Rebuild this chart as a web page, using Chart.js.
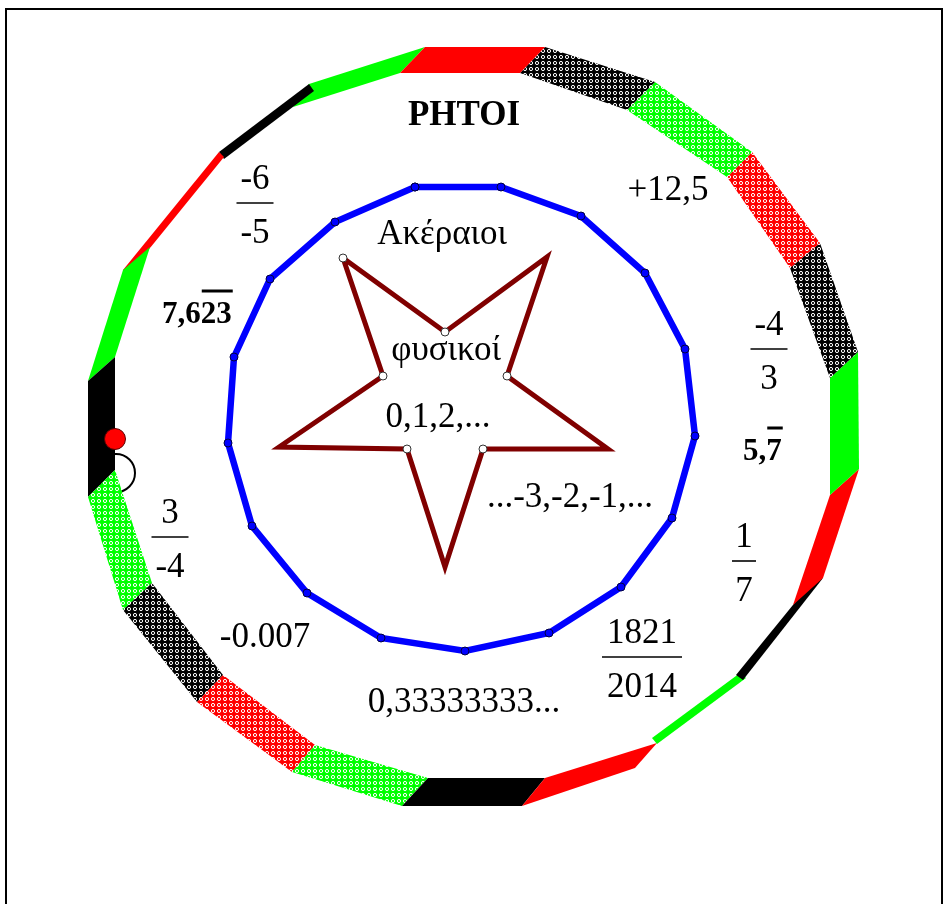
<!DOCTYPE html>
<html>
<head>
<meta charset="utf-8">
<script src="https://cdn.jsdelivr.net/npm/chart.js@4.4.1/dist/chart.umd.min.js"></script>
<style>
  html, body { margin: 0; padding: 0; background: #fff; }
  #wrap { width: 944px; height: 904px; }
</style>
</head>
<body>
<div id="wrap"><canvas id="c" width="944" height="904"></canvas></div>
<script>
// --- data: vertices in picture units (x right, y down) ---
const polyX = [415, 501, 581, 645, 685, 695, 672, 621, 549, 465, 381, 307, 252, 228, 234, 270, 335];
const polyY = [187, 187, 216, 273, 349, 436, 518, 587, 633, 651, 638, 593, 526, 443, 357, 279, 222];

// star: outer / inner alternating, starting at top-left tip
const starX = [343, 445, 547, 507, 608, 483, 445, 407, 279, 383];
const starY = [258, 332, 257, 376, 449, 449, 567, 449, 447, 376];
const starDot = [1, 1, 0, 1, 0, 1, 0, 1, 0, 1];

// outer band, clockwise from the top red piece
const ringFill = ['red', 'blackH', 'greenH', 'redH', 'blackH', 'green', 'red', 'black', 'green', 'red',
                  'black', 'greenH', 'redH', 'blackH', 'greenH', 'black', 'green', 'red', 'black', 'green'];
const ringPts = [
  [[425, 47], [545, 47], [520, 73], [400, 73]],
  [[545, 47], [655, 82], [627, 110], [520, 73]],
  [[655, 82], [752, 152], [727, 177], [627, 110]],
  [[752, 152], [820, 243], [790, 268], [727, 177]],
  [[820, 243], [858, 352], [830, 378], [790, 268]],
  [[858, 352], [859, 469], [830, 495], [830, 378]],
  [[859, 469], [823, 578], [793, 605], [830, 495]],
  [[823, 578], [743, 680], [736, 675], [810, 584]],
  [[746, 678], [657, 744], [652, 738], [740, 673]],
  [[657, 743], [545, 778], [522, 806], [635, 768]],
  [[545, 778], [428, 778], [402, 806], [522, 806]],
  [[428, 778], [315, 745], [292, 772], [402, 806]],
  [[315, 745], [223, 675], [197, 702], [292, 772]],
  [[223, 675], [152, 583], [123, 610], [197, 702]],
  [[152, 583], [115, 470], [88, 497], [123, 610]],
  [[115, 470], [115, 357], [88, 381], [88, 497]],
  [[115, 357], [150, 247], [123, 270], [88, 381]],
  [[123, 270], [219, 152], [224, 157], [128, 275]],
  [[219, 152], [309, 84], [314, 91], [224, 159]],
  [[293, 107], [400, 73], [425, 47], [309, 84]]
];

const redDot = { x: 115, y: 439 };
const loopRing = { x: 116, y: 473 };
const frameX = [6, 6, 942, 942];
const frameY = [912, 9, 9, 912];

// texts
const labelText = ['ΡΗΤΟΙ', 'Ακέραιοι', 'φυσικοί', '0,1,2,...', '...-3,-2,-1,...', '+12,5', '-0.007', '0,33333333...'];
const labelX = [464, 442, 446, 438, 570, 668, 265, 464];
const labelY = [125, 244, 360, 427, 507, 200, 647, 712];
const labelBold = [true, false, false, false, false, false, false, false];

const fracNum = ['-6', '-4', '1', '3', '1821'];
const fracDen = ['-5', '3', '7', '-4', '2014'];
const fracX = [255, 769, 744, 170, 642];
const fracBarY = [203, 349, 561, 537, 657];
const fracBarW = [37, 37, 24, 37, 80];

const repHead = ['7,6', '5,'];
const repTail = ['23', '7'];
const repX = [162, 743];
const repY = [323, 460];

// --- helpers ---
function makePattern(color) {
  const c = document.createElement('canvas');
  c.width = 6; c.height = 6;
  const g = c.getContext('2d');
  g.fillStyle = color;
  g.fillRect(0, 0, 6, 6);
  g.strokeStyle = '#ffffff';
  g.lineWidth = 1;
  g.beginPath();
  g.arc(3, 3, 1.6, 0, Math.PI * 2);
  g.stroke();
  return g.createPattern(c, 'repeat');
}

const fills = {
  red: '#ff0000', green: '#00ff00', black: '#000000',
  redH: makePattern('#ff0000'), greenH: makePattern('#00ff00'), blackH: makePattern('#000000')
};

const toPts = (xs, ys) => xs.map((x, i) => ({ x: x, y: ys[i] }));
const closed = pts => pts.concat([pts[0]]);

const SERIF = '"Liberation Serif", "Times New Roman", serif';

const textPlugin = {
  id: 'texts',
  afterDatasetsDraw(chart) {
    const ctx = chart.ctx;
    const sx = chart.scales.x, sy = chart.scales.y;
    ctx.save();
    ctx.fillStyle = '#000';
    ctx.strokeStyle = '#000';
    ctx.textBaseline = 'alphabetic';

    labelText.forEach((t, i) => {
      ctx.font = (labelBold[i] ? 'bold 35px ' : '35px ') + SERIF;
      ctx.textAlign = 'center';
      ctx.fillText(t, sx.getPixelForValue(labelX[i]), sy.getPixelForValue(labelY[i]));
    });

    ctx.font = '35px ' + SERIF;
    ctx.textAlign = 'center';
    ctx.lineWidth = 1.6;
    fracNum.forEach((n, i) => {
      const cx = sx.getPixelForValue(fracX[i]);
      const by = sy.getPixelForValue(fracBarY[i]);
      ctx.fillText(n, cx, by - 14);
      ctx.fillText(fracDen[i], cx, by + 40);
      ctx.beginPath();
      ctx.moveTo(cx - fracBarW[i] / 2, by);
      ctx.lineTo(cx + fracBarW[i] / 2, by);
      ctx.stroke();
    });

    ctx.font = 'bold 31px ' + SERIF;
    ctx.textAlign = 'left';
    repHead.forEach((h, i) => {
      const x0 = sx.getPixelForValue(repX[i]);
      const y0 = sy.getPixelForValue(repY[i]);
      const w1 = ctx.measureText(h).width;
      const w2 = ctx.measureText(repTail[i]).width;
      ctx.fillText(h, x0, y0);
      ctx.fillText(repTail[i], x0 + w1, y0);
      ctx.lineWidth = 3;
      ctx.beginPath();
      ctx.moveTo(x0 + w1 + 1, y0 - 32);
      ctx.lineTo(x0 + w1 + w2 + 1, y0 - 32);
      ctx.stroke();
    });
    ctx.restore();
  }
};

const datasets = [];

datasets.push({
  data: [redDot], showLine: false, pointRadius: 10.5,
  pointBackgroundColor: '#ff0000', pointBorderColor: '#5a0000', pointBorderWidth: 1
});

datasets.push({
  data: closed(toPts(polyX, polyY)), borderColor: '#0000ff', borderWidth: 6.5, fill: false,
  pointRadius: 4, pointBackgroundColor: '#0000ff', pointBorderColor: '#000040', pointBorderWidth: 1,
  borderJoinStyle: 'miter'
});

const starPts = closed(toPts(starX, starY));
const starR = starDot.concat([0]).map(d => d ? 4 : 0);
datasets.push({
  data: starPts, borderColor: '#800000', borderWidth: 5, fill: false,
  pointRadius: starR, pointBackgroundColor: '#ffffff', pointBorderColor: '#333333', pointBorderWidth: 1,
  borderJoinStyle: 'miter'
});

ringPts.forEach((q, i) => {
  datasets.push({
    data: closed(q.map(p => ({ x: p[0], y: p[1] }))),
    borderWidth: 0, borderColor: 'rgba(0,0,0,0)',
    backgroundColor: fills[ringFill[i]], fill: 'shape', pointRadius: 0
  });
});

datasets.push({
  data: [loopRing], showLine: false, pointRadius: 19,
  pointBackgroundColor: 'rgba(0,0,0,0)', pointBorderColor: '#000', pointBorderWidth: 2
});

datasets.push({
  data: toPts(frameX, frameY), borderColor: '#000', borderWidth: 2, fill: false, pointRadius: 0
});

new Chart(document.getElementById('c'), {
  type: 'line',
  data: { datasets: datasets },
  options: {
    responsive: false,
    animation: false,
    events: [],
    layout: { padding: 0, autoPadding: false },
    elements: { line: { tension: 0 } },
    scales: {
      x: { type: 'linear', min: 0, max: 944, display: false },
      y: { type: 'linear', min: 0, max: 904, reverse: true, display: false }
    },
    plugins: { legend: { display: false }, tooltip: { enabled: false } }
  },
  plugins: [textPlugin]
});
</script>
</body>
</html>
